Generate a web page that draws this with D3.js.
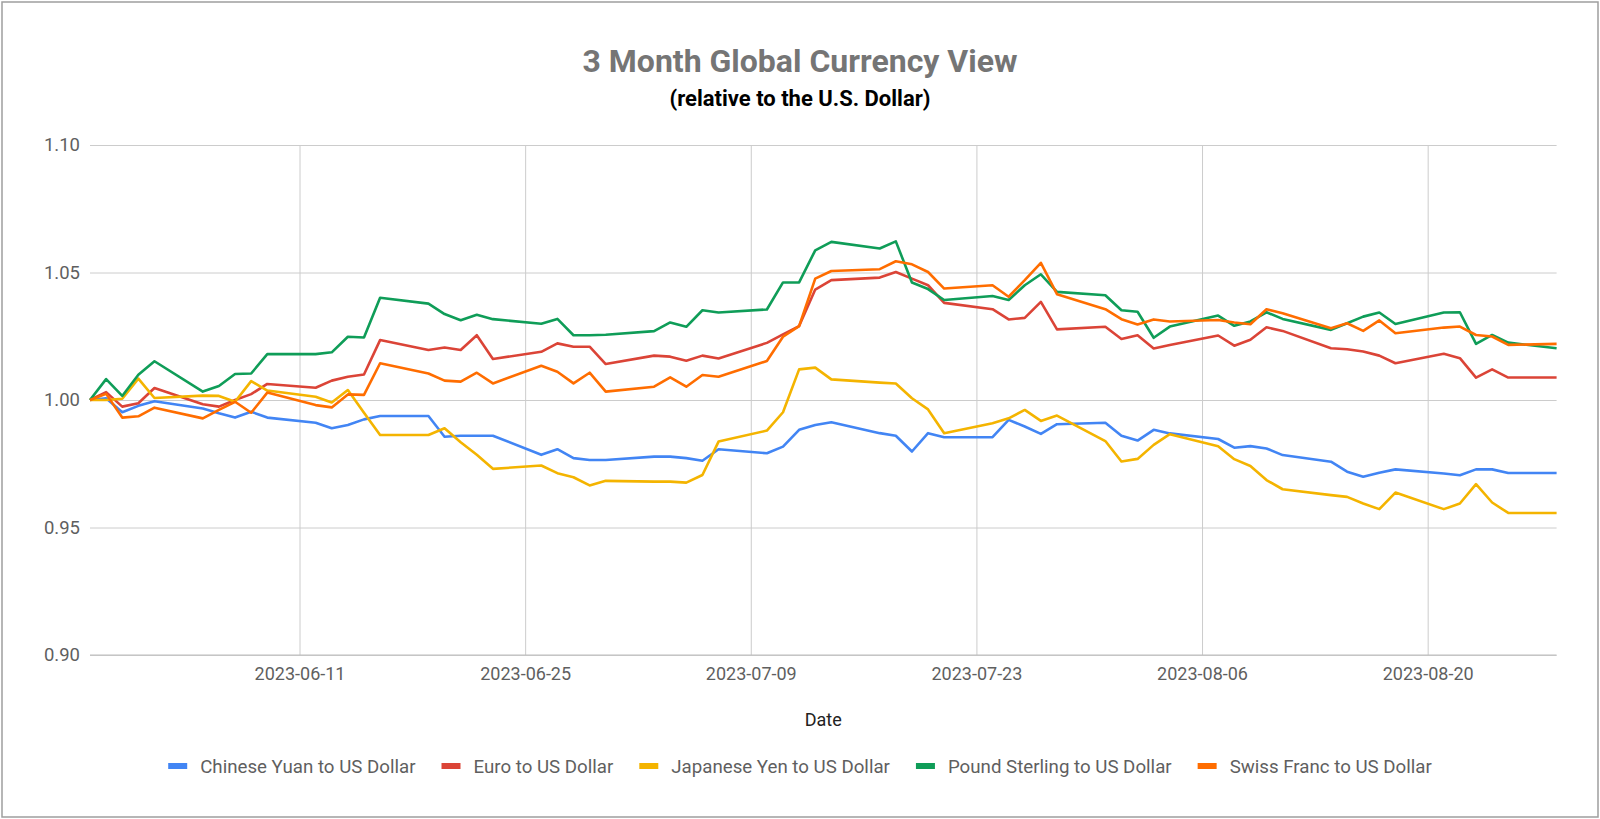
<!DOCTYPE html>
<html>
<head>
<meta charset="utf-8">
<script src="https://cdn.jsdelivr.net/npm/d3@7"></script>
<style>
  html, body { margin: 0; padding: 0; background: #fff; }
  svg { display: block; font-family: Roboto, "Noto Sans", Arial, sans-serif; }
</style>
</head>
<body>
<div id="chart"></div>
<script>
// Trading days shown on the chart
const dates = [
  "2023-05-29", "2023-05-30", "2023-05-31", "2023-06-01", "2023-06-02",
  "2023-06-05", "2023-06-06", "2023-06-07", "2023-06-08", "2023-06-09",
  "2023-06-12", "2023-06-13", "2023-06-14", "2023-06-15", "2023-06-16",
  "2023-06-19", "2023-06-20", "2023-06-21", "2023-06-22", "2023-06-23",
  "2023-06-26", "2023-06-27", "2023-06-28", "2023-06-29", "2023-06-30",
  "2023-07-03", "2023-07-04", "2023-07-05", "2023-07-06", "2023-07-07",
  "2023-07-10", "2023-07-11", "2023-07-12", "2023-07-13", "2023-07-14",
  "2023-07-17", "2023-07-18", "2023-07-19", "2023-07-20", "2023-07-21",
  "2023-07-24", "2023-07-25", "2023-07-26", "2023-07-27", "2023-07-28",
  "2023-07-31", "2023-08-01", "2023-08-02", "2023-08-03", "2023-08-04",
  "2023-08-07", "2023-08-08", "2023-08-09", "2023-08-10", "2023-08-11",
  "2023-08-14", "2023-08-15", "2023-08-16", "2023-08-17", "2023-08-18",
  "2023-08-21", "2023-08-22", "2023-08-23", "2023-08-24", "2023-08-25",
  "2023-08-28"
];

const seriesNames = [
  "Chinese Yuan to US Dollar",
  "Euro to US Dollar",
  "Japanese Yen to US Dollar",
  "Pound Sterling to US Dollar",
  "Swiss Franc to US Dollar"
];

const yuan = [
  1.0000, 1.0007, 0.9952, 0.9977, 0.9995,
  0.9967, 0.9948, 0.9931, 0.9954, 0.9931,
  0.9911, 0.9889, 0.9902, 0.9924, 0.9937,
  0.9937, 0.9856, 0.9860, 0.9860, 0.9860,
  0.9785, 0.9807, 0.9772, 0.9765, 0.9765,
  0.9778, 0.9778, 0.9772, 0.9762, 0.9807,
  0.9791, 0.9817, 0.9883, 0.9902, 0.9913,
  0.9870, 0.9860, 0.9798, 0.9870, 0.9854,
  0.9854, 0.9922, 0.9896, 0.9867, 0.9905,
  0.9911, 0.9860, 0.9841, 0.9883, 0.9869,
  0.9847, 0.9813, 0.9819, 0.9810, 0.9784,
  0.9758, 0.9719, 0.9699, 0.9715, 0.9728,
  0.9712, 0.9705, 0.9728, 0.9728, 0.9714,
  0.9714
];

const euro = [
  1.0000, 1.0031, 0.9974, 0.9987, 1.0047,
  0.9983, 0.9974, 1.0000, 1.0023, 1.0063,
  1.0048, 1.0076, 1.0091, 1.0100, 1.0235,
  1.0196, 1.0206, 1.0196, 1.0254, 1.0161,
  1.0189, 1.0222, 1.0209, 1.0209, 1.0141,
  1.0174, 1.0170, 1.0154, 1.0174, 1.0163,
  1.0224, 1.0257, 1.0290, 1.0433, 1.0470,
  1.0480, 1.0502, 1.0476, 1.0450, 1.0381,
  1.0356, 1.0316, 1.0322, 1.0385, 1.0277,
  1.0287, 1.0239, 1.0254, 1.0202, 1.0216,
  1.0253, 1.0213, 1.0236, 1.0285, 1.0271,
  1.0203, 1.0199, 1.0190, 1.0174, 1.0144,
  1.0181, 1.0164, 1.0088, 1.0120, 1.0088,
  1.0088
];

const yen = [
  1.0000, 1.0000, 1.0005, 1.0084, 1.0008,
  1.0017, 1.0016, 0.9993, 1.0074, 1.0037,
  1.0013, 0.9990, 1.0039, 0.9950, 0.9863,
  0.9863, 0.9889, 0.9834, 0.9785, 0.9730,
  0.9743, 0.9713, 0.9697, 0.9665, 0.9683,
  0.9680, 0.9680, 0.9676, 0.9706, 0.9837,
  0.9880, 0.9952, 1.0120, 1.0127, 1.0081,
  1.0068, 1.0065, 1.0007, 0.9963, 0.9870,
  0.9909, 0.9928, 0.9961, 0.9918, 0.9939,
  0.9839, 0.9759, 0.9769, 0.9824, 0.9866,
  0.9819, 0.9768, 0.9741, 0.9686, 0.9650,
  0.9627, 0.9620, 0.9594, 0.9572, 0.9637,
  0.9572, 0.9594, 0.9670, 0.9598, 0.9557,
  0.9557
];

const sterling = [
  1.0000, 1.0082, 1.0016, 1.0099, 1.0152,
  1.0033, 1.0055, 1.0102, 1.0104, 1.0180,
  1.0180, 1.0187, 1.0248, 1.0245, 1.0401,
  1.0378, 1.0337, 1.0313, 1.0334, 1.0317,
  1.0299, 1.0318, 1.0254, 1.0254, 1.0256,
  1.0270, 1.0304, 1.0287, 1.0352, 1.0343,
  1.0355, 1.0461, 1.0461, 1.0587, 1.0620,
  1.0594, 1.0622, 1.0461, 1.0435, 1.0392,
  1.0408, 1.0392, 1.0450, 1.0493, 1.0424,
  1.0411, 1.0352, 1.0346, 1.0244, 1.0288,
  1.0331, 1.0291, 1.0308, 1.0344, 1.0318,
  1.0275, 1.0301, 1.0327, 1.0343, 1.0298,
  1.0343, 1.0344, 1.0220, 1.0255, 1.0225,
  1.0203
];

const franc = [
  1.0000, 1.0024, 0.9931, 0.9936, 0.9970,
  0.9928, 0.9961, 0.9993, 0.9950, 1.0029,
  0.9980, 0.9971, 1.0022, 1.0020, 1.0144,
  1.0104, 1.0076, 1.0072, 1.0107, 1.0065,
  1.0134, 1.0111, 1.0065, 1.0107, 1.0033,
  1.0052, 1.0089, 1.0052, 1.0098, 1.0091,
  1.0153, 1.0248, 1.0290, 1.0476, 1.0506,
  1.0513, 1.0544, 1.0532, 1.0502, 1.0437,
  1.0450, 1.0405, 1.0470, 1.0538, 1.0415,
  1.0356, 1.0317, 1.0296, 1.0316, 1.0308,
  1.0314, 1.0304, 1.0297, 1.0356, 1.0340,
  1.0281, 1.0301, 1.0271, 1.0312, 1.0262,
  1.0284, 1.0288, 1.0255, 1.0249, 1.0216,
  1.0220
];

const xTickLabels = ["2023-06-11", "2023-06-25", "2023-07-09", "2023-07-23", "2023-08-06", "2023-08-20"];
const yTicks = [0.90, 0.95, 1.00, 1.05, 1.10];

const width = 1600;
const height = 819;
const plot = { left: 90, right: 1556.6, top: 145, bottom: 655 };
const colors = ["#4285f4", "#db4437", "#f4b400", "#0f9d58", "#ff6d00"];

const parse = d3.utcParse("%Y-%m-%d");
const dateValues = dates.map(parse);
const allSeries = [yuan, euro, yen, sterling, franc];

const svg = d3.select("#chart")
  .append("svg")
  .attr("width", width)
  .attr("height", height);

// Outer frame
svg.append("rect")
  .attr("x", 2)
  .attr("y", 2)
  .attr("width", width - 4)
  .attr("height", height - 4)
  .attr("fill", "#fff")
  .attr("stroke", "#9e9e9e")
  .attr("stroke-width", 1.5);

// Title and subtitle
svg.append("text")
  .attr("x", 800)
  .attr("y", 72)
  .attr("text-anchor", "middle")
  .style("font-size", "32px")
  .style("font-weight", "bold")
  .attr("fill", "#757575")
  .text("3 Month Global Currency View");

svg.append("text")
  .attr("x", 800)
  .attr("y", 106)
  .attr("text-anchor", "middle")
  .style("font-size", "22px")
  .style("font-weight", "bold")
  .attr("fill", "#000")
  .text("(relative to the U.S. Dollar)");

// Scales
const x = d3.scaleUtc()
  .domain(d3.extent(dateValues))
  .range([plot.left, plot.right]);

const y = d3.scaleLinear()
  .domain([0.90, 1.10])
  .range([plot.bottom, plot.top]);

// Horizontal gridlines + y labels
const yAxis = d3.axisLeft(y)
  .tickValues(yTicks)
  .tickFormat(d3.format(".2f"))
  .tickSize(-(plot.right - plot.left))
  .tickPadding(10);

const yg = svg.append("g")
  .attr("transform", `translate(${plot.left},0)`)
  .call(yAxis);
yg.select(".domain").remove();
yg.selectAll(".tick line").attr("stroke", "#cccccc");
yg.selectAll(".tick text")
  .attr("fill", "#5f5f5f")
  .style("font-size", "18.5px")
  .style("font-family", "Roboto, sans-serif");

// Vertical gridlines + date labels
const xAxis = d3.axisBottom(x)
  .tickValues(xTickLabels.map(parse))
  .tickFormat(d3.utcFormat("%Y-%m-%d"))
  .tickSize(-(plot.bottom - plot.top))
  .tickPadding(12);

const xg = svg.append("g")
  .attr("transform", `translate(0,${plot.bottom})`)
  .call(xAxis);
xg.select(".domain").remove();
xg.selectAll(".tick line").attr("stroke", "#cccccc");
xg.selectAll(".tick text")
  .attr("fill", "#5f5f5f")
  .style("font-size", "18px")
  .style("font-family", "Roboto, sans-serif");

// Baseline
svg.append("line")
  .attr("x1", plot.left)
  .attr("x2", plot.right)
  .attr("y1", y(0.90))
  .attr("y2", y(0.90))
  .attr("stroke", "#bdbdbd");

// Axis title
svg.append("text")
  .attr("x", (plot.left + plot.right) / 2)
  .attr("y", 726)
  .attr("text-anchor", "middle")
  .style("font-size", "18px")
  .attr("fill", "#222")
  .text("Date");

// Lines
const line = d3.line()
  .x((d, i) => x(dateValues[i]))
  .y(d => y(d));

svg.append("g")
  .selectAll("path")
  .data(allSeries)
  .join("path")
  .attr("d", d => line(d))
  .attr("fill", "none")
  .attr("stroke", (d, i) => colors[i])
  .attr("stroke-width", 2.6)
  .attr("stroke-linejoin", "round");

// Legend
const legend = svg.append("g");
let offset = 0;
seriesNames.forEach((name, i) => {
  const item = legend.append("g").attr("transform", `translate(${offset},0)`);
  item.append("rect")
    .attr("x", 0)
    .attr("y", -3)
    .attr("width", 19)
    .attr("height", 6)
    .attr("fill", colors[i]);
  const t = item.append("text")
    .attr("x", 32)
    .attr("y", 0)
    .attr("dy", "0.35em")
    .style("font-size", "18.7px")
    .attr("fill", "#5f5f5f")
    .text(name);
  offset += 32 + t.node().getComputedTextLength() + 26;
});
const legendWidth = offset - 26;
legend.attr("transform", `translate(${800 - legendWidth / 2},766)`);
</script>
</body>
</html>
